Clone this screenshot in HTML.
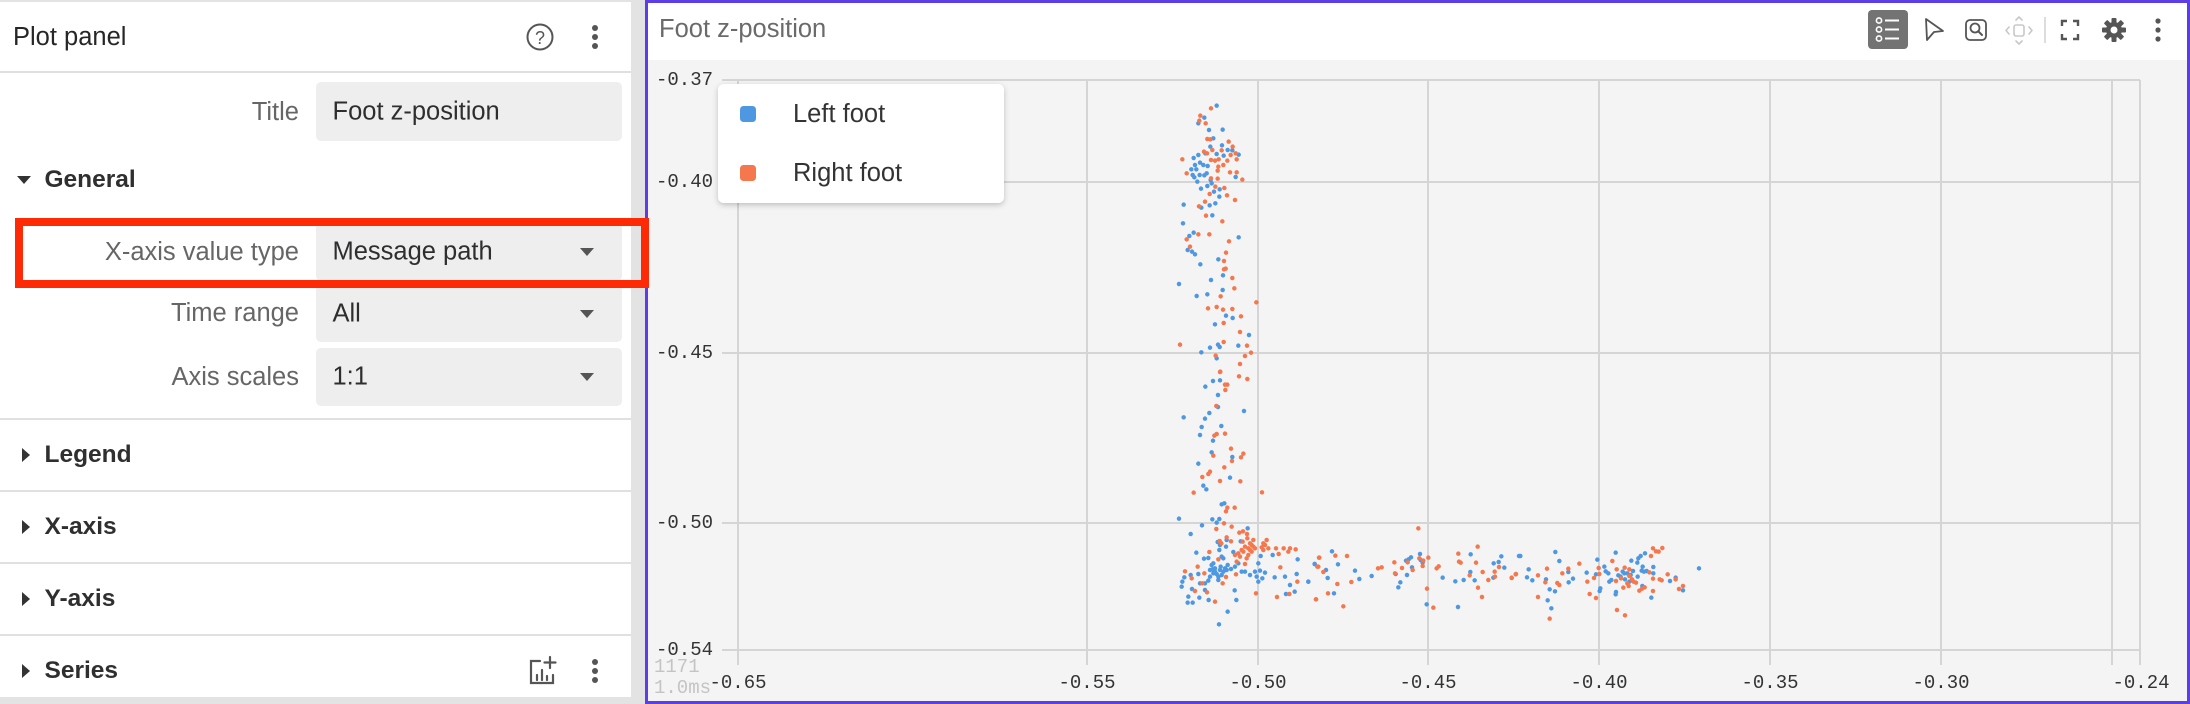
<!DOCTYPE html>
<html><head><meta charset="utf-8">
<style>
*{margin:0;padding:0;box-sizing:border-box}
body{width:2190px;height:704px;overflow:hidden;background:#e3e3e3;font-family:"Liberation Sans",sans-serif;position:relative}
#left{position:absolute;left:0;top:2px;width:631px;height:695px;background:#fff}
.t{position:absolute;height:40px;line-height:40px;font-size:25.5px;white-space:nowrap}
.lbl{left:0;width:299px;text-align:right;color:#666}
.inp{position:absolute;left:316px;width:306px;background:#eeeeee;border-radius:5px}
.inp span{position:absolute;left:16.5px;top:50%;transform:translateY(-50%);font-size:25.5px;color:#2e2e2e;white-space:nowrap}
.dd{position:absolute;right:28px;top:50%;margin-top:-4px;width:0;height:0;border-left:7px solid transparent;border-right:7px solid transparent;border-top:8px solid #555}
.sec{left:44.5px;font-weight:bold;font-size:24.5px;color:#2f2f2f}
.div{position:absolute;left:0;width:631px;height:2px;background:#e0e0e0}
.tri-r{position:absolute;left:22px;width:0;height:0;border-top:7px solid transparent;border-bottom:7px solid transparent;border-left:8px solid #333}
.tri-d{position:absolute;left:17px;width:0;height:0;border-left:7px solid transparent;border-right:7px solid transparent;border-top:8px solid #333}
svg{position:absolute;left:0;top:0}
</style></head>
<body>
<div id="left"></div>
<!-- header -->
<div class="t" style="left:13px;top:17px;color:#262626">Plot panel</div>
<div class="div" style="top:71px"></div>
<!-- Title row -->
<div class="t lbl" style="top:92px">Title</div>
<div class="inp" style="top:82px;height:59px"><span>Foot z-position</span></div>
<!-- General -->
<div class="tri-d" style="top:176px"></div>
<div class="t sec" style="top:160px">General</div>
<div class="t lbl" style="top:232px">X-axis value type</div>
<div class="inp" style="top:223px;height:58px"><span>Message path</span><div class="dd"></div></div>
<div class="t lbl" style="top:293px">Time range</div>
<div class="inp" style="top:285px;height:57px"><span>All</span><div class="dd"></div></div>
<div class="t lbl" style="top:357px">Axis scales</div>
<div class="inp" style="top:348px;height:58px"><span>1:1</span><div class="dd"></div></div>
<div class="div" style="top:418px"></div>
<div class="tri-r" style="top:448px"></div>
<div class="t sec" style="top:435px">Legend</div>
<div class="div" style="top:490px"></div>
<div class="tri-r" style="top:520px"></div>
<div class="t sec" style="top:507px">X-axis</div>
<div class="div" style="top:562px"></div>
<div class="tri-r" style="top:592px"></div>
<div class="t sec" style="top:579px">Y-axis</div>
<div class="div" style="top:634px"></div>
<div class="tri-r" style="top:664px"></div>
<div class="t sec" style="top:651px">Series</div>

<svg width="2190" height="704" viewBox="0 0 2190 704">
<defs>
<filter id="sh" x="-10%" y="-20%" width="120%" height="150%"><feDropShadow dx="0" dy="2" stdDeviation="3" flood-color="#000" flood-opacity="0.22"/></filter>
</defs>
<!-- left panel icons -->
<circle cx="540" cy="37" r="12.5" fill="none" stroke="#555" stroke-width="2"/>
<text x="540" y="38" text-anchor="middle" dominant-baseline="central" font-family="Liberation Sans" font-size="18" fill="#555">?</text>
<g fill="#555"><circle cx="595" cy="28" r="3"/><circle cx="595" cy="37" r="3"/><circle cx="595" cy="46" r="3"/></g>
<g fill="#555"><circle cx="595" cy="662" r="3"/><circle cx="595" cy="671" r="3"/><circle cx="595" cy="680" r="3"/></g>
<g fill="none" stroke="#555" stroke-width="2.2" stroke-linecap="round">
<path d="M540 661H531V683H553V675"/>
<path d="M550 657V668M544.5 662.5H555.5"/>
<path d="M537 675V680M542 670V680M547 676V680"/>
</g>

<!-- chart panel -->
<rect x="645" y="0" width="1545" height="704" fill="#f4f4f4"/>
<rect x="645" y="0" width="1545" height="60" fill="#fff"/>
<text x="659" y="29" dominant-baseline="central" font-family="Liberation Sans" font-size="25.5" fill="#6a6a6a">Foot z-position</text>

<!-- toolbar -->
<rect x="1868" y="10" width="40" height="39" rx="4" fill="#737373"/>
<g stroke="#fff" fill="none" stroke-width="1.6">
<circle cx="1879" cy="20.5" r="2.6"/><circle cx="1879" cy="29.5" r="2.6"/><circle cx="1879" cy="38.5" r="2.6"/>
<path d="M1885 20.5H1899M1885 29.5H1899M1885 38.5H1899" stroke-width="2"/>
</g>
<path d="M1926 19L1943 31L1934 32L1927 40Z" fill="none" stroke="#555" stroke-width="1.8" stroke-linejoin="round"/>
<rect x="1966" y="20" width="20" height="20" rx="4" fill="none" stroke="#555" stroke-width="1.8"/>
<circle cx="1975" cy="28" r="4.5" fill="none" stroke="#555" stroke-width="1.8"/>
<path d="M1978.5 31.5L1982 35" stroke="#555" stroke-width="2" stroke-linecap="round"/>
<g fill="none" stroke="#c8c8c8" stroke-width="1.6" stroke-linecap="round" stroke-linejoin="round">
<rect x="2014" y="25" width="10" height="11" rx="2"/>
<path d="M2009 27L2006 30.5L2009 34M2029 27L2032 30.5L2029 34M2016 20L2019 17L2022 20M2016 41L2019 44L2022 41"/>
</g>
<path d="M2045 17V43" stroke="#ddd" stroke-width="2"/>
<path d="M2062 26V21H2067M2073 21H2078V26M2078 34V39H2073M2067 39H2062V34" fill="none" stroke="#555" stroke-width="2.4"/>
<g transform="translate(2114,30)" fill="#555">
<circle r="8"/>
<rect x="-2.5" y="-12" width="5" height="24" rx="1"/>
<rect x="-2.5" y="-12" width="5" height="24" rx="1" transform="rotate(45)"/>
<rect x="-2.5" y="-12" width="5" height="24" rx="1" transform="rotate(90)"/>
<rect x="-2.5" y="-12" width="5" height="24" rx="1" transform="rotate(135)"/>
<circle r="3.5" fill="#fff"/>
</g>
<g fill="#555"><circle cx="2158" cy="21" r="2.6"/><circle cx="2158" cy="30" r="2.6"/><circle cx="2158" cy="39" r="2.6"/></g>

<!-- grid -->
<g stroke="#d5d5d5" stroke-width="2">
<path d="M722 80H2140M722 182H2140M722 353H2140M722 523H2140M722 650H2140"/>
<path d="M738 80V665M1087 80V665M1258 80V665M1428 80V665M1599 80V665M1770 80V665M1941 80V665M2112 80V665M2140 80V665"/>
</g>
<g font-family="Liberation Mono" font-size="19" fill="#333" dominant-baseline="central">
<g text-anchor="end">
<text x="713" y="80">-0.37</text>
<text x="713" y="182">-0.40</text>
<text x="713" y="353">-0.45</text>
<text x="713" y="523">-0.50</text>
<text x="713" y="650">-0.54</text>
</g>
<g text-anchor="middle">
<text x="738" y="683">-0.65</text>
<text x="1087" y="683">-0.55</text>
<text x="1258" y="683">-0.50</text>
<text x="1428" y="683">-0.45</text>
<text x="1599" y="683">-0.40</text>
<text x="1770" y="683">-0.35</text>
<text x="1941" y="683">-0.30</text>
<text x="2141" y="683">-0.24</text>
</g>
<text x="654" y="667" fill="#c4c4c4">1171</text>
<text x="654" y="688" fill="#c4c4c4">1.0ms</text>
</g>

<!-- dots: blue -->
<g fill="none" stroke="#4e98e2" stroke-width="13.5" stroke-linecap="round">
<path transform="translate(1150,90) scale(0.33333)" d="M200 47h0M163 83h0M145 100h0M177 120h0M218 119h0M190 145h0M181 170h0M216 166h0M166 190h0M131 204h0M145 195h0M200 192h0M221 197h0M233 180h0M247 181h0M266 194h0M150 218h0M160 225h0M173 228h0M135 225h0M124 238h0M139 238h0M128 255h0M149 255h0M163 256h0M133 262h0M142 275h0M182 270h0M185 280h0M172 288h0M153 296h0M192 305h0M209 298h0M208 320h0M179 346h0M196 340h0M154 353h0M101 344h0M187 376h0M99 400h0M131 428h0M118 438h0M266 442h0M113 480h0M126 485h0M135 493h0M151 523h0M205 508h0M87 582h0M183 570h0M219 556h0M140 618h0M172 613h0M218 600h0M228 677h0M248 684h0M195 703h0M297 735h0M265 767h0M154 787h0M180 773h0M209 771h0M204 764h0M200 805h0M257 261h0M170 250h0"/>
<path transform="translate(1150,370) scale(0.33333)" d="M166 50h0M189 33h0M210 31h0M204 75h0M204 111h0M178 129h0M165 146h0M101 142h0M155 171h0M214 168h0M150 195h0M189 212h0M185 247h0M247 261h0M282 123h0M145 281h0M240 323h0M160 347h0M169 358h0M215 403h0M223 400h0M87 446h0M156 466h0M187 448h0M208 447h0M200 458h0M122 492h0M139 548h0M162 566h0M175 564h0M203 516h0M210 525h0M230 510h0M208 540h0M228 530h0M220 565h0M250 546h0M272 514h0M293 475h0M185 585h0M195 595h0M210 600h0M220 605h0M205 620h0M215 615h0M200 612h0M190 610h0M180 620h0M175 632h0M165 640h0M150 640h0M145 612h0M122 615h0M103 622h0M97 635h0M95 650h0M126 657h0M115 680h0M113 698h0M128 698h0M148 683h0M165 660h0M176 690h0M207 763h0M233 725h0M259 690h0M254 661h0M230 600h0M243 597h0M255 590h0M265 580h0M275 605h0M285 605h0M300 615h0M320 620h0M315 605h0M330 602h0M345 608h0M337 625h0M325 635h0M325 580h0M332 558h0M368 555h0M374 622h0M405 620h0M420 645h0M443 568h0M440 612h0M475 635h0M494 582h0M434 665h0M408 672h0M233 585h0M215 560h0M190 580h0M195 605h0M212 590h0M188 598h0M225 595h0M205 630h0M180 600h0"/>
<path transform="translate(1300,510) scale(0.33333)" d="M25 215h0M44 162h0M78 180h0M83 204h0M96 124h0M102 250h0M114 163h0M165 182h0M178 207h0M215 198h0M287 192h0M301 217h0M295 232h0M318 152h0M326 148h0M333 142h0M321 195h0M336 172h0M360 132h0M362 150h0M368 158h0M380 283h0M428 203h0M466 214h0M474 291h0M491 210h0M512 133h0M511 186h0M524 211h0M581 160h0M596 156h0M604 139h0M580 203h0M613 173h0M657 138h0"/>
<path transform="translate(1510,510) scale(0.33333)" d="M31 138h0M56 178h0M51 202h0M67 211h0M108 208h0M113 271h0M119 238h0M124 295h0M135 244h0M136 126h0M148 153h0M175 186h0M176 217h0M189 206h0M230 188h0M262 149h0M258 193h0M271 235h0M269 243h0M283 170h0M287 184h0M295 190h0M298 215h0M304 210h0M317 128h0M318 246h0M317 253h0M325 196h0M332 200h0M338 185h0M345 208h0M352 190h0M358 215h0M362 195h0M364 152h0M369 183h0M382 158h0M385 145h0M392 138h0M398 170h0M405 130h0M395 182h0M402 185h0M410 183h0M430 171h0M430 190h0M397 228h0M424 263h0M480 213h0M497 203h0M519 241h0M567 175h0M383 200h0M343 190h0"/>
</g>
<!-- dots: orange -->
<g fill="none" stroke="#f5774d" stroke-width="13.5" stroke-linecap="round">
<path transform="translate(1150,90) scale(0.33333)" d="M183 55h0M151 77h0M167 100h0M148 92h0M172 147h0M181 148h0M236 155h0M248 170h0M215 181h0M187 180h0M162 185h0M171 190h0M242 195h0M257 190h0M97 208h0M183 210h0M195 212h0M206 208h0M232 212h0M260 208h0M220 225h0M205 230h0M203 242h0M110 250h0M240 247h0M260 247h0M277 269h0M203 266h0M183 265h0M223 294h0M196 290h0M179 312h0M231 316h0M255 330h0M165 335h0M147 349h0M168 377h0M217 394h0M145 433h0M178 433h0M110 448h0M120 470h0M237 454h0M228 488h0M222 513h0M222 538h0M227 536h0M247 564h0M253 595h0M212 619h0M174 655h0M200 651h0M219 659h0M247 657h0M273 679h0M221 699h0M319 637h0M270 726h0M90 764h0M221 756h0M291 767h0M303 788h0M285 798h0M270 822h0M197 797h0M211 845h0"/>
<path transform="translate(1150,370) scale(0.33333)" d="M210 6h0M267 19h0M292 27h0M225 44h0M232 44h0M226 60h0M199 108h0M193 197h0M200 192h0M225 191h0M190 257h0M243 236h0M280 251h0M273 262h0M246 273h0M223 292h0M180 305h0M175 312h0M157 321h0M210 333h0M271 334h0M131 368h0M336 367h0M228 424h0M232 413h0M254 413h0M222 460h0M245 470h0M199 477h0M268 488h0M279 484h0M291 492h0M292 505h0M209 513h0M214 520h0M243 514h0M230 502h0M278 515h0M300 520h0M310 530h0M305 545h0M295 555h0M280 545h0M265 550h0M270 560h0M255 555h0M290 565h0M300 540h0M315 535h0M285 530h0M310 510h0M340 520h0M350 510h0M345 525h0M335 532h0M355 535h0M378 535h0M386 552h0M401 535h0M415 545h0M420 535h0M437 538h0M340 540h0M178 546h0M205 568h0M143 590h0M105 604h0M125 625h0M163 610h0M157 640h0M135 663h0M171 667h0M195 695h0M258 613h0M228 621h0M218 640h0M318 670h0M391 592h0M381 681h0M418 672h0M442 635h0M498 688h0M507 563h0M502 590h0M285 582h0M260 575h0M295 535h0M275 540h0M305 525h0"/>
<path transform="translate(1300,510) scale(0.33333)" d="M48 268h0M55 170h0M58 143h0M70 186h0M84 250h0M106 137h0M112 222h0M130 289h0M141 138h0M154 216h0M234 175h0M245 172h0M283 157h0M285 190h0M306 174h0M323 157h0M338 180h0M355 55h0M358 145h0M370 152h0M368 168h0M385 143h0M381 236h0M400 293h0M410 175h0M416 169h0M475 131h0M477 155h0M482 158h0M533 110h0M528 158h0M509 196h0M534 233h0M546 261h0M548 186h0M565 210h0M584 185h0M597 171h0M585 200h0M635 203h0M648 192h0"/>
<path transform="translate(1510,510) scale(0.33333)" d="M5 204h0M17 193h0M84 196h0M84 261h0M106 217h0M111 176h0M119 326h0M142 219h0M148 225h0M157 190h0M175 176h0M208 161h0M232 215h0M239 252h0M252 204h0M258 264h0M266 174h0M268 192h0M307 153h0M318 213h0M320 178h0M321 300h0M340 233h0M344 173h0M345 316h0M352 220h0M356 228h0M358 178h0M366 208h0M371 215h0M378 218h0M388 242h0M396 236h0M404 232h0M418 187h0M423 138h0M429 115h0M438 124h0M446 125h0M457 114h0M429 243h0M429 206h0M449 208h0M455 211h0M473 193h0M497 208h0M507 237h0M519 228h0M358 198h0M333 205h0"/>
</g>

<!-- legend -->
<rect x="718" y="84" width="286" height="119" rx="6" fill="#fff" filter="url(#sh)"/>
<rect x="740" y="106" width="16" height="16" rx="3.5" fill="#4e98e2"/>
<rect x="740" y="165" width="16" height="16" rx="3.5" fill="#f5774d"/>
<g font-family="Liberation Sans" font-size="25.5" fill="#333" dominant-baseline="central">
<text x="793" y="114">Left foot</text>
<text x="793" y="173">Right foot</text>
</g>

<!-- panel border -->
<rect x="646.5" y="1.5" width="1542" height="701" fill="none" stroke="#5c3de6" stroke-width="3"/>

<!-- red highlight box -->
<rect x="19" y="222" width="626" height="62" fill="none" stroke="#fd2a05" stroke-width="8"/>
</svg>
</body></html>
